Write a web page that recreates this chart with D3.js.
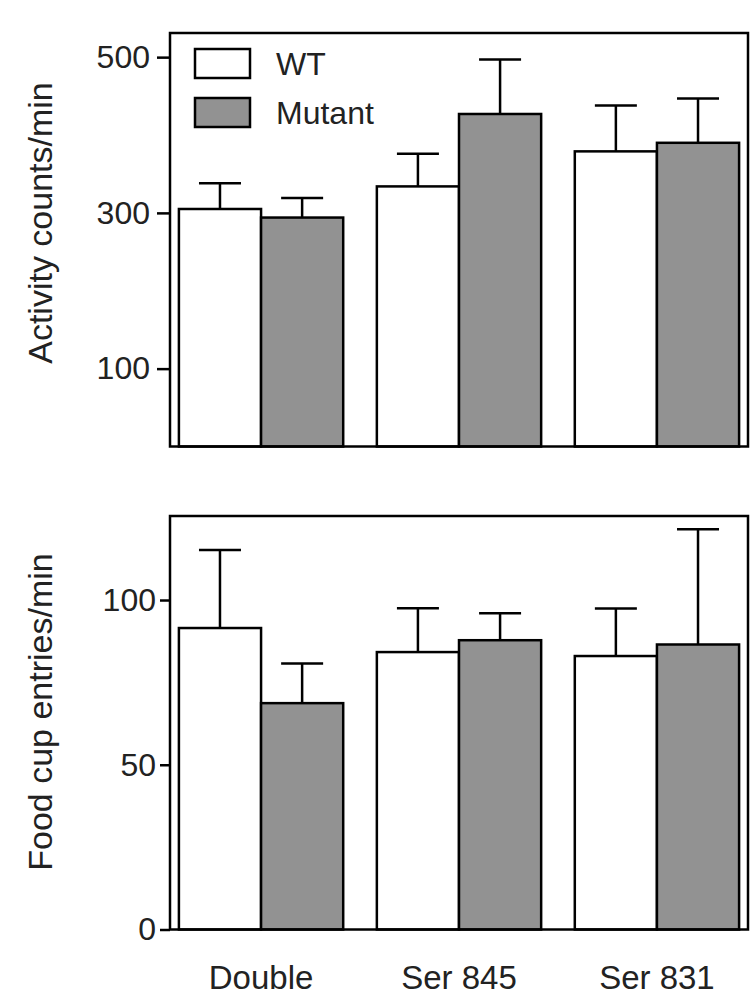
<!DOCTYPE html>
<html>
<head>
<meta charset="utf-8">
<script src="https://cdn.jsdelivr.net/npm/d3@7"></script>
<style>
  html, body { margin: 0; padding: 0; background: #fff; }
  svg { display: block; }
  text { font-family: "Liberation Sans", Arial, Helvetica, sans-serif; fill: #222; }
</style>
</head>
<body>
<svg id="chart" width="750" height="1005"></svg>
<script>
// ---- data ----
const categories = ["Double", "Ser 845", "Ser 831"];
const series = ["WT", "Mutant"];

const activityWT = [305, 334, 379];
const activityWTErr = [33, 42, 59];
const activityMutant = [294, 427, 390];
const activityMutantErr = [25, 70, 57];
const activityTicks = [100, 300, 500];

const foodWT = [91.5, 84.2, 83.0];
const foodWTErr = [23.7, 13.3, 14.4];
const foodMutant = [68.7, 87.8, 86.5];
const foodMutantErr = [12.0, 8.2, 35.0];
const foodTicks = [0, 50, 100];

const svg = d3.select("#chart");
const left = 170, right = 748;

const x0 = d3.scaleBand().domain(categories).range([left, right])
  .paddingInner(0.17).paddingOuter(0.045);
const x1 = d3.scaleBand().domain(series).range([0, x0.bandwidth()]).padding(0);
const fill = d3.scaleOrdinal().domain(series).range(["#ffffff", "#929292"]);

function panel(cfg) {
  const y = d3.scaleLinear().domain(cfg.domain).range([cfg.bottom, cfg.top]);
  const g = svg.append("g");
  const rows = [];
  categories.forEach((c, i) => {
    rows.push({cat: c, s: "WT", v: cfg.wt[i], e: cfg.wtErr[i]});
    rows.push({cat: c, s: "Mutant", v: cfg.mut[i], e: cfg.mutErr[i]});
  });

  // error bars (behind bars)
  const eb = g.append("g").attr("stroke", "#000").attr("stroke-width", 2.5);
  rows.forEach(d => {
    const cx = x0(d.cat) + x1(d.s) + x1.bandwidth() / 2;
    eb.append("line").attr("x1", cx).attr("x2", cx)
      .attr("y1", y(d.v)).attr("y2", y(d.v + d.e));
    eb.append("line").attr("x1", cx - 21).attr("x2", cx + 21)
      .attr("y1", y(d.v + d.e)).attr("y2", y(d.v + d.e));
  });

  g.append("g").selectAll("rect").data(rows).join("rect")
    .attr("x", d => x0(d.cat) + x1(d.s))
    .attr("width", x1.bandwidth())
    .attr("y", d => y(d.v))
    .attr("height", d => y(cfg.domain[0]) - y(d.v))
    .attr("fill", d => fill(d.s))
    .attr("stroke", "#000").attr("stroke-width", 2.5);

  // frame
  g.append("rect").attr("x", left).attr("y", cfg.top)
    .attr("width", right - left).attr("height", cfg.bottom - cfg.top)
    .attr("fill", "none").attr("stroke", "#000").attr("stroke-width", 2.5);

  // y axis
  const ax = g.append("g").attr("transform", `translate(${left},0)`)
    .call(d3.axisLeft(y).tickValues(cfg.ticks).tickSize(cfg.tickSize).tickPadding(cfg.tickPad).tickFormat(d3.format("d")));
  ax.select(".domain").remove();
  ax.selectAll(".tick line").attr("stroke", "#000").attr("stroke-width", 2.5);
  ax.selectAll(".tick text").attr("font-size", 32).style("font-family", "'Liberation Sans', Arial, sans-serif").attr("fill", "#222");

  // y title
  g.append("text")
    .attr("transform", `translate(52,${cfg.titleY}) rotate(-90)`)
    .attr("text-anchor", "middle").attr("font-size", 34)
    .text(cfg.title);
  return y;
}

panel({
  domain: [0, 531], top: 33, bottom: 446.5,
  wt: activityWT, wtErr: activityWTErr, mut: activityMutant, mutErr: activityMutantErr,
  ticks: activityTicks, tickSize: 13, tickPad: 7,
  title: "Activity counts/min", titleY: 223
});

panel({
  domain: [0, 125.5], top: 516, bottom: 929.5,
  wt: foodWT, wtErr: foodWTErr, mut: foodMutant, mutErr: foodMutantErr,
  ticks: foodTicks, tickSize: 10, tickPad: 4,
  title: "Food cup entries/min", titleY: 712
});

// x labels
svg.append("g").selectAll("text").data(categories).join("text")
  .attr("x", d => x0(d) + x0.bandwidth() / 2)
  .attr("y", 989)
  .attr("text-anchor", "middle").attr("font-size", 33)
  .text(d => d);

// legend
const leg = svg.append("g");
series.forEach((s, i) => {
  const yy = 49 + i * 49;
  leg.append("rect").attr("x", 195).attr("y", yy).attr("width", 55).attr("height", 29)
    .attr("fill", fill(s)).attr("stroke", "#000").attr("stroke-width", 2.5);
  leg.append("text").attr("x", 276).attr("y", yy + 26).attr("font-size", 32).text(s);
});
</script>
</body>
</html>
